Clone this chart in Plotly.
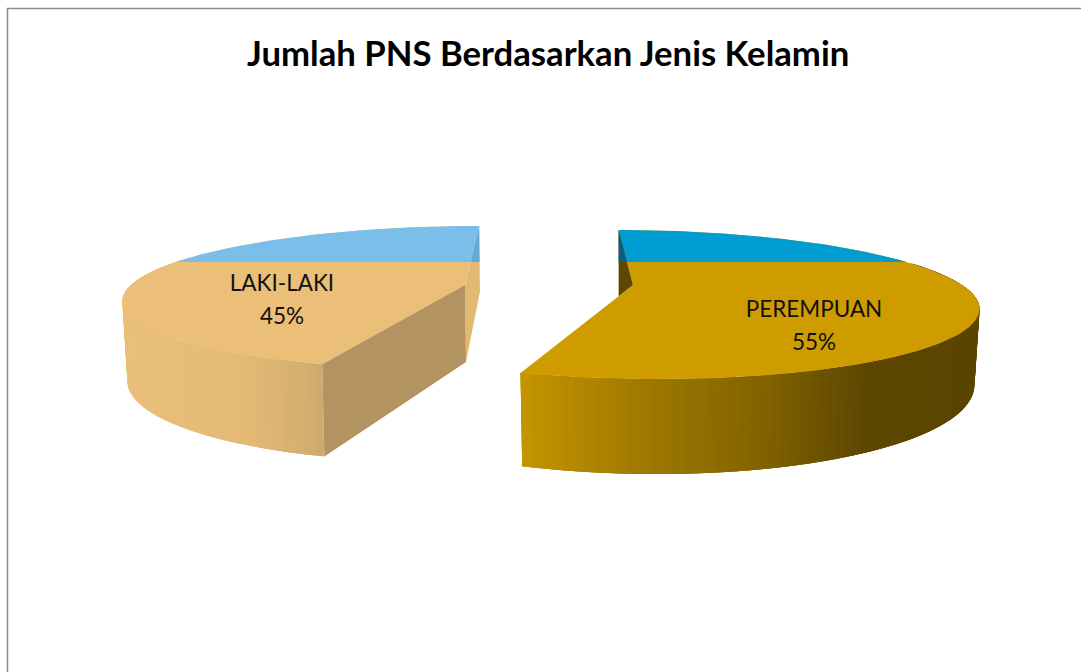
import numpy as np
import plotly.graph_objects as go

TITLE = "Jumlah PNS Berdasarkan Jenis Kelamin"
categories = ["PEREMPUAN", "LAKI-LAKI"]
values = [55, 45]

# Perspective geometry of each exploded slice (pixel scale of the axes)
GEOM = {
    "PEREMPUAN": dict(C=633, F=285, A=329, B=148, D=0.2625, E=-5.4, depth=70),
    "LAKI-LAKI": dict(C=465, F=285, A=334, B=98, D=0.175, E=19.5, depth=77),
}
BOTTOM_SHRINK = 0.985
STYLE = {
    "PEREMPUAN": dict(face="#CF9C00", band="#009DD3", wall_lo="#5E4700", wall_hi="#0C5C7C",
                      stops=[(521, "#C49400"), (640, "#A07900"), (760, "#836300"), (870, "#5C4600"), (985, "#5A4500")],
                      arc=(70, None)),
    "LAKI-LAKI": dict(face="#EBBF78", band="#7BBEEA", wall_lo="#B39460", wall_hi="#B39460",
                      stops=[(120, "#EABF79"), (240, "#E3BA76"), (300, "#D6B070"), (325, "#CBA86B")],
                      arc=(None, 295)),
}
BAND_Y = 262
LABEL_POS = {"PEREMPUAN": (814, 311), "LAKI-LAKI": (282, 285)}


def proj(g, deg, drop=0.0):
    t = np.radians(deg)
    s, c = np.sin(t), np.cos(t)
    w = 1 + g["D"] * c
    x = (g["C"] + g["A"] * s + g["B"] * c) / w
    if drop:
        x = g["C"] + (x - g["C"]) * BOTTOM_SHRINK
    return x, (g["F"] + drop - g["E"] * c) / w


def clip_above(xs, ys, limit):
    """Part of a polygon that lies above (smaller y than) a horizontal line."""
    out = []
    n = len(xs)
    for i in range(n):
        x0, y0, x1, y1 = xs[i], ys[i], xs[(i + 1) % n], ys[(i + 1) % n]
        if y0 <= limit:
            out.append((x0, y0))
        if (y0 <= limit) != (y1 <= limit):
            f = (limit - y0) / (y1 - y0)
            out.append((x0 + f * (x1 - x0), limit))
    return [p[0] for p in out], [p[1] for p in out]


def mix(stops, x):
    xs = [s[0] for s in stops]
    chan = [[int(s[1][i:i + 2], 16) for s in stops] for i in (1, 3, 5)]
    return "rgb({:.0f},{:.0f},{:.0f})".format(*[np.interp(x, xs, c) for c in chan])


fig = go.Figure()


def poly(xs, ys, color):
    xs, ys = list(xs), list(ys)
    fig.add_trace(go.Scatter(x=xs + xs[:1], y=ys + ys[:1], mode="lines", fill="toself",
                             fillcolor=color, line=dict(color=color, width=0),
                             hoverinfo="skip", showlegend=False))


total = sum(values)
a0 = 0.0
spans = {}
for cat, val in zip(categories, values):
    spans[cat] = (a0, a0 + 360.0 * val / total)
    a0 = spans[cat][1]

for cat in categories:
    g, st = GEOM[cat], STYLE[cat]
    a_start, a_end = spans[cat]
    cx, cy = g["C"], g["F"]
    cy2 = cy + g["depth"]
    sx, sy = proj(g, a_start)
    sx2, sy2 = proj(g, a_start, g["depth"])
    ex, ey = proj(g, a_end)
    ex2, ey2 = proj(g, a_end, g["depth"])

    # outer rim, drawn as strips that overlap the next one so the shading runs smoothly
    lo = st["arc"][0] if st["arc"][0] is not None else a_start
    hi = st["arc"][1] if st["arc"][1] is not None else a_end
    grid = np.linspace(lo, hi, 90)
    for p, q in zip(grid[:-1], grid[1:]):
        q2 = min(q + 2.0 * (grid[1] - grid[0]), hi)
        x1, y1 = proj(g, p)
        x2, y2 = proj(g, q2)
        x3, y3 = proj(g, q2, g["depth"])
        x4, y4 = proj(g, p, g["depth"])
        xm, _ = proj(g, (p + q) / 2)
        poly([x1, x2, x3, x4], [y1, y2, y3, y4], mix(st["stops"], xm))

    arc = np.linspace(a_start, a_end, 160)
    px, py = proj(g, arc)
    fx = [cx] + list(px)
    fy = [cy] + list(py)

    if cat == "LAKI-LAKI":
        # side wall at the far end of the slice
        wx, wy = [ex, ex2 + 1, cx + 1, cx], [ey, ey2, cy2, cy]
        poly(wx, wy, "#E1B974")
        poly(*clip_above(wx, wy, BAND_Y), "#62AAD9")

    poly(fx, fy, st["face"])
    poly(*clip_above(fx, fy, BAND_Y), st["band"])

    if cat == "PEREMPUAN":
        # inner wall seen through the notch at the apex
        wx, wy = [sx, cx, sx], [sy, cy, cy + (ey - cy) * (sx - cx) / (ex - cx)]
        poly(wx, wy, st["wall_lo"])
        poly(*clip_above(wx, wy, BAND_Y), st["wall_hi"])
    else:
        # cut wall facing the viewer
        poly([sx, cx, cx + 1, sx2], [sy, cy, cy2, sy2], st["wall_lo"])

for cat, val in zip(categories, values):
    lx, ly = LABEL_POS[cat]
    fig.add_trace(go.Scatter(x=[lx, lx], y=[ly, ly + 33], mode="text",
                             text=[cat, f"{val}%"], textposition="middle center",
                             textfont=dict(family="Lato, Carlito, sans-serif", size=22.5, color="#111111"),
                             hoverinfo="skip", showlegend=False))

fig.add_annotation(x=548, y=52, xref="x", yref="y", text=f"<b>{TITLE}</b>", showarrow=False,
                   font=dict(family="Lato, Carlito, sans-serif", size=34.7, color="#000000"))

fig.add_shape(type="rect", xref="x", yref="y", x0=7.5, y0=8.5, x1=1100, y1=700,
              line=dict(color="#8C8C8C", width=1.5), fillcolor="rgba(0,0,0,0)")

fig.update_layout(width=1081, height=672, margin=dict(l=0, r=0, t=0, b=0),
                  paper_bgcolor="white", plot_bgcolor="white", showlegend=False,
                  xaxis=dict(range=[0, 1081], visible=False, fixedrange=True),
                  yaxis=dict(range=[672, 0], visible=False, fixedrange=True))

fig.write_html("out.html", post_script="document.body.style.margin='0';document.body.style.overflow='hidden';",
               config=dict(displayModeBar=False))
